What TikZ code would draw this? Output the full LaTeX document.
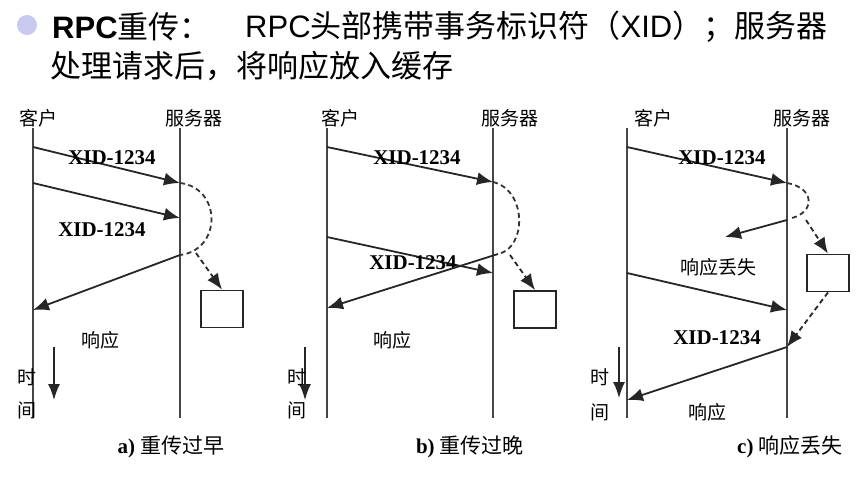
\documentclass[tikz,border=0pt]{standalone}
\usepackage{fontspec}
\setmainfont{Liberation Serif}
\setsansfont{Liberation Sans}
\newfontfamily\cjk{Noto Sans CJK SC}
\usetikzlibrary{arrows.meta}
\definecolor{bulletblue}{RGB}{200,200,240}
\definecolor{linegray}{RGB}{70,70,70}

\begin{document}
\begin{tikzpicture}[x=1pt, y=-1pt,
  lifeline/.style={draw=linegray, line width=2.2pt},
  msg/.style={draw=black!85, line width=1.8pt, -{Latex[length=16pt,width=13pt]}},
  dashcurve/.style={draw=black!80, line width=1.8pt, dash pattern=on 5pt off 3.5pt},
  dashmsg/.style={msg, dash pattern=on 5pt off 3.5pt},
  lbl/.style={inner sep=0pt, font=\cjk\fontsize{19}{19}\selectfont},
  xid/.style={inner sep=0pt, font=\bfseries\fontsize{21}{21}\selectfont},
  captxt/.style={inner sep=0pt, font=\fontsize{21}{21}\selectfont},
  headtxt/.style={anchor=west, inner sep=0pt, font=\fontsize{31}{31}\selectfont},
  cachebox/.style={draw=black!85, line width=1.8pt, minimum width=42pt, minimum height=37pt, inner sep=0pt},
  timearrow/.style={draw=black!85, line width=1.5pt, -{Latex[length=16pt,width=12pt]}}]
\useasboundingbox (0,0) rectangle (858,479);

% title
\fill[bulletblue] (27,25) circle (10);
\node[headtxt] (head) at (52,27) {\sffamily\bfseries RPC\mdseries\cjk 重传：};
\node[headtxt] (head2) at (245,27) {\sffamily RPC\cjk 头部携带事务标识符（\sffamily XID\cjk ）；服务器};
\node[headtxt] (head3) at (50,66) {\cjk 处理请求后，将响应放入缓存};

% a) retransmit too early
\coordinate (aCtop) at (33,128);
\coordinate (aCbot) at (33,418);
\coordinate (aStop) at (180,128);
\coordinate (aSbot) at (180,418);
\draw[lifeline] (aCtop) -- (aCbot);
\draw[lifeline] (aStop) -- (aSbot);
\node[lbl] (aClient) at (38,118) {客户};
\node[lbl] (aServer) at (194,118) {服务器};

\coordinate (aC1) at (33,147);
\coordinate (aS1) at (180,183);
\coordinate (aC2) at (33,183);
\coordinate (aS2) at (180,218);
\coordinate (aS3) at (180,255);
\coordinate (aC3) at (33,310);
\draw[msg] (aC1) -- (aS1);
\node[xid] (aX1) at (112,158) {XID-1234};
\draw[msg] (aC2) -- (aS2);
\node[xid] (aX2) at (102,230) {XID-1234};
\draw[dashcurve] (aS1) .. controls (222,188) and (222,250) .. (aS3);
\draw[msg] (aS3) -- (aC3);
\node[lbl] (aResp) at (100,340) {响应};

\node[cachebox] (aBox) at (222,309) {};
\coordinate (aD) at (196,253);
\draw[dashmsg] (aD) -- (aBox.north);

\coordinate (aT1) at (54,347);
\coordinate (aT2) at (54,400);
\draw[timearrow] (aT1) -- (aT2);
\node[lbl] (aTime1) at (27,377) {时};
\node[lbl] (aTime2) at (27,410) {间};
\node[captxt] (aCap) at (171,447) {\textbf{a)} {\cjk 重传过早}};

% b) retransmit too late
\coordinate (bCtop) at (327,128);
\coordinate (bCbot) at (327,418);
\coordinate (bStop) at (493,128);
\coordinate (bSbot) at (493,418);
\draw[lifeline] (bCtop) -- (bCbot);
\draw[lifeline] (bStop) -- (bSbot);
\node[lbl] (bClient) at (340,118) {客户};
\node[lbl] (bServer) at (510,118) {服务器};

\coordinate (bC1) at (327,147);
\coordinate (bS1) at (493,182);
\coordinate (bC2) at (327,237);
\coordinate (bS2) at (493,273);
\coordinate (bS3) at (498,254);
\coordinate (bC3) at (327,308);
\draw[msg] (bC1) -- (bS1);
\node[xid] (bX1) at (417,158) {XID-1234};
\draw[msg] (bC2) -- (bS2);
\node[xid] (bX2) at (413,263) {XID-1234};
\draw[dashcurve] (bS1) .. controls (527,190) and (527,248) .. (bS3);
\draw[msg] (bS3) -- (bC3);
\node[lbl] (bResp) at (392,340) {响应};

\node[cachebox] (bBox) at (535,309.5) {};
\coordinate (bD) at (510,255);
\draw[dashmsg] (bD) -- (bBox.north);

\coordinate (bT1) at (305,347);
\coordinate (bT2) at (305,400);
\draw[timearrow] (bT1) -- (bT2);
\node[lbl] (bTime1) at (297,377) {时};
\node[lbl] (bTime2) at (297,410) {间};
\node[captxt] (bCap) at (470,447) {\textbf{b)} {\cjk 重传过晚}};

% c) reply lost
\coordinate (cCtop) at (627,128);
\coordinate (cCbot) at (627,418);
\coordinate (cStop) at (787,128);
\coordinate (cSbot) at (787,418);
\draw[lifeline] (cCtop) -- (cCbot);
\draw[lifeline] (cStop) -- (cSbot);
\node[lbl] (cClient) at (653,118) {客户};
\node[lbl] (cServer) at (802,118) {服务器};

\coordinate (cC1) at (627,147);
\coordinate (cS1) at (787,183);
\coordinate (cS2) at (787,220);
\coordinate (cLost) at (725,237);
\coordinate (cC3) at (627,273);
\coordinate (cS3) at (787,310);
\coordinate (cS4) at (787,347);
\coordinate (cC4) at (627,400);
\draw[msg] (cC1) -- (cS1);
\node[xid] (cX1) at (722,158) {XID-1234};
\draw[dashcurve] (cS1) .. controls (815,188) and (815,212) .. (792,218);
\draw[msg] (cS2) -- (cLost);
\node[lbl] (cLostTxt) at (718,267) {响应丢失};

\node[cachebox] (cBox) at (828,273) {};
\coordinate (cD) at (806,220);
\draw[dashmsg] (cD) -- (cBox.north);
\draw[dashmsg] (cBox.south) -- (cS4);

\draw[msg] (cC3) -- (cS3);
\node[xid] (cX2) at (717,338) {XID-1234};
\draw[msg] (cS4) -- (cC4);
\node[lbl] (cResp) at (707,412) {响应};

\coordinate (cT1) at (619,347);
\coordinate (cT2) at (619,398);
\draw[timearrow] (cT1) -- (cT2);
\node[lbl] (cTime1) at (600,377) {时};
\node[lbl] (cTime2) at (600,412) {间};
\node[captxt] (cCap) at (790,447) {\textbf{c)} {\cjk 响应丢失}};
\end{tikzpicture}
\end{document}
